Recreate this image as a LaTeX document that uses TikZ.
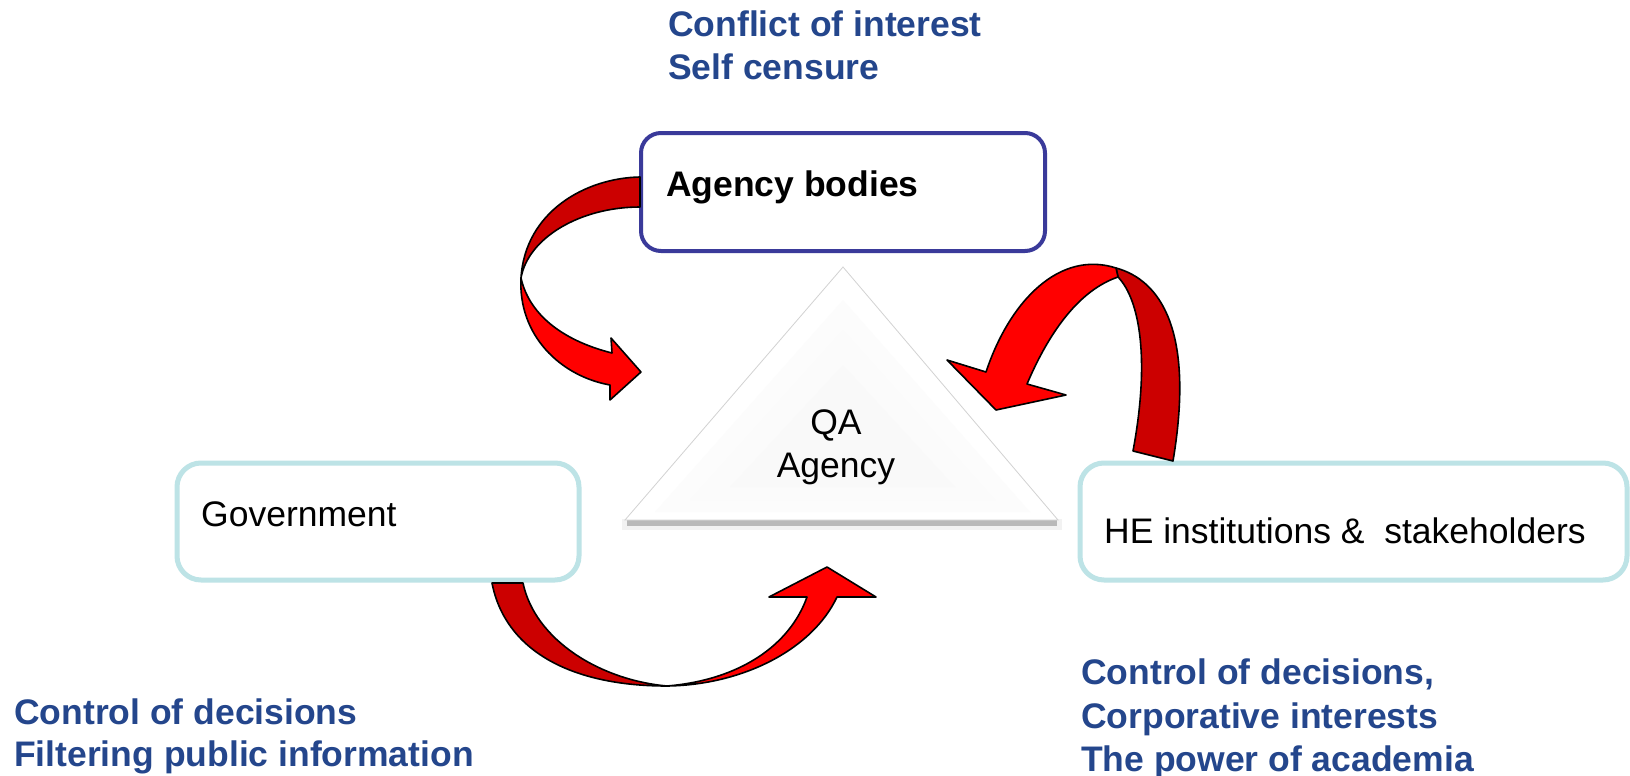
\documentclass[tikz,border=0pt]{standalone}
\usepackage{fontspec}
\setmainfont{Liberation Sans}
\definecolor{ttlblue}{RGB}{36,70,140}
\definecolor{bodyblue}{RGB}{58,58,154}
\definecolor{cyanline}{RGB}{189,227,230}
\definecolor{lightred}{RGB}{255,0,0}
\definecolor{darkred}{RGB}{204,0,0}
\tikzset{
  lbl/.style={inner sep=0pt, anchor=base west, font=\fontsize{35.5}{42}\selectfont},
  ttl/.style={lbl, text=ttlblue, font=\fontsize{35.5}{42}\selectfont\bfseries},
  boxa/.style={draw=bodyblue, line width=4pt, rounded corners=20pt, fill=white},
  boxc/.style={draw=cyanline, line width=5pt, rounded corners=24pt, fill=white},
  front/.style={fill=lightred, draw=black, line width=1.6pt, line join=round},
  back/.style={fill=darkred, draw=black, line width=1.6pt, line join=round},
}
\begin{document}
\begin{tikzpicture}[x=1pt,y=-1pt]
\useasboundingbox (0,0) rectangle (1630,776);
\fill[white] (0,0) rectangle (1630,776);

% boxes
\draw[boxa] (641,133) rectangle (1045,251);
\draw[boxc] (177,463) rectangle (579,580);
\draw[boxc] (1080,463) rectangle (1627,580);

% triangle with shadow
\fill[gray!10] (622,519) rectangle (1062,530);
\fill[gray!55] (627,520) rectangle (1057,526);
\filldraw[draw=gray!35, line width=0.8pt, fill=white] (843,267) -- (625,520) -- (1058,520) -- cycle;
\fill[gray!2] (843,300) -- (655,512) -- (1030,512) -- cycle;
\fill[gray!3.5] (843,330) -- (690,500) -- (995,500) -- cycle;
\fill[gray!4.5] (843,365) -- (730,487) -- (955,487) -- cycle;
\node[inner sep=0pt, anchor=base, font=\fontsize{35.5}{42}\selectfont] (qa) at (836,434) {QA};
\node[inner sep=0pt, anchor=base, font=\fontsize{35.5}{42}\selectfont] (qa2) at (836,477) {Agency};

% arrow 1: agency bodies -> triangle
\draw[back] (640,177) .. controls (585,178) and (525,212) .. (521,278)
  .. controls (528,238) and (580,207) .. (640,207) -- cycle;
\draw[front] (521,278) .. controls (518,335) and (560,376) .. (610,385)
  -- (610,400) -- (641,372) -- (611,338) -- (612,353)
  .. controls (568,342) and (530,318) .. (521,278) -- cycle;

% arrow 2: HE -> triangle
\draw[back] (1116,268) .. controls (1160,280) and (1195,330) .. (1173,461)
  -- (1133,451) .. controls (1150,360) and (1140,300) .. (1118,277) -- cycle;
\draw[front] (986,372) -- (947,360) -- (996,410) -- (1066,395) -- (1027,384)
  .. controls (1050,330) and (1080,290) .. (1118,277)
  -- (1116,268) .. controls (1060,250) and (1010,300) .. (986,372) -- cycle;

% arrow 3: government -> triangle
\draw[back] (492,583) .. controls (505,650) and (570,686) .. (667,686)
  .. controls (600,680) and (535,640) .. (523,583) -- cycle;
\draw[front] (667,686) .. controls (742,685) and (812,650) .. (837,597)
  -- (876,597) -- (827,567) -- (769,597) -- (807,597)
  .. controls (790,645) and (740,680) .. (667,686) -- cycle;

% texts
\node[ttl] (t1) at (668,37) {Conflict of interest};
\node[ttl] (t2) at (668,80) {Self censure};
\node[lbl, font=\fontsize{35.5}{42}\selectfont\bfseries] (abt) at (666,196) {Agency bodies};
\node[lbl] (govt) at (201,526) {Government};
\node[lbl] (het) at (1104,543) {HE institutions \&\ \ stakeholders};
\node[ttl] (b1) at (14,724) {Control of decisions};
\node[ttl] (b2) at (14,766) {Filtering public information};
\node[ttl] (r1) at (1081,684) {Control of decisions,};
\node[ttl] (r2) at (1081,728) {Corporative interests};
\node[ttl] (r3) at (1081,771) {The power of academia};
\end{tikzpicture}
\end{document}
